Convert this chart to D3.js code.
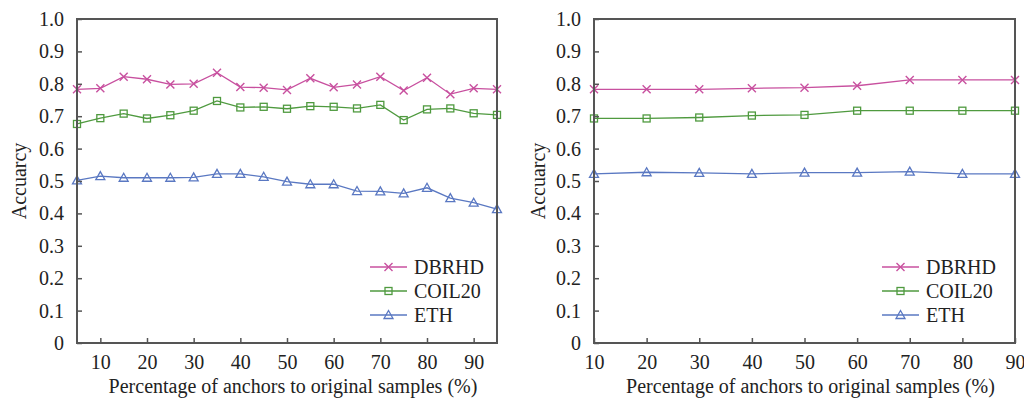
<!DOCTYPE html>
<html>
<head>
<meta charset="utf-8">
<script src="https://cdn.jsdelivr.net/npm/d3@7"></script>
<style>
  body { margin: 0; background: #fff; }
  svg { display: block; }
</style>
</head>
<body>
<svg id="chart" width="1024" height="403"></svg>
<script>
// left panel: anchors 5..95 step 5
var leftX = [5, 10, 15, 20, 25, 30, 35, 40, 45, 50, 55, 60, 65, 70, 75, 80, 85, 90, 95];
var leftDBRHD = [0.783, 0.786, 0.822, 0.814, 0.798, 0.800, 0.834, 0.790, 0.788, 0.781, 0.817, 0.789, 0.798, 0.822, 0.779, 0.819, 0.768, 0.786, 0.783];
var leftCOIL20 = [0.676, 0.694, 0.708, 0.693, 0.703, 0.717, 0.747, 0.727, 0.729, 0.723, 0.731, 0.729, 0.724, 0.735, 0.688, 0.721, 0.724, 0.709, 0.704];
var leftETH = [0.502, 0.515, 0.510, 0.510, 0.510, 0.511, 0.522, 0.522, 0.513, 0.498, 0.490, 0.490, 0.469, 0.468, 0.462, 0.479, 0.447, 0.433, 0.413];

// right panel: anchors 10..90 step 10
var rightX = [10, 20, 30, 40, 50, 60, 70, 80, 90];
var rightDBRHD = [0.783, 0.783, 0.783, 0.786, 0.788, 0.794, 0.812, 0.812, 0.812];
var rightCOIL20 = [0.693, 0.693, 0.696, 0.702, 0.704, 0.717, 0.717, 0.717, 0.717];
var rightETH = [0.522, 0.527, 0.525, 0.522, 0.526, 0.526, 0.529, 0.522, 0.522];

var xTicks = [10, 20, 30, 40, 50, 60, 70, 80, 90];
var yTicks = [0, 0.1, 0.2, 0.3, 0.4, 0.5, 0.6, 0.7, 0.8, 0.9, 1.0];
var seriesNames = ["DBRHD", "COIL20", "ETH"];
var seriesColors = ["#c8509f", "#4f9a3f", "#5a78c2"];
var seriesMarkers = ["cross", "square", "triangle"];

var svg = d3.select("#chart");
var axisColor = "#555";
var textColor = "#222";
var fontFamily = '"Liberation Serif", "Times New Roman", serif';

function marker(g, type, color) {
    if (type === "cross") {
        g.append("path").attr("d", "M-4,-4L4,4M-4,4L4,-4")
            .attr("stroke", color).attr("stroke-width", 1.4).attr("fill", "none");
    } else if (type === "square") {
        g.append("rect").attr("x", -3.5).attr("y", -3.5).attr("width", 7).attr("height", 7)
            .attr("stroke", color).attr("stroke-width", 1.3).attr("fill", "none");
    } else {
        g.append("path").attr("d", "M0,-4.5L4.5,3.5L-4.5,3.5Z")
            .attr("stroke", color).attr("stroke-width", 1.3).attr("fill", "none");
    }
}

function drawPanel(p) {
    var x = d3.scaleLinear().domain(p.xDomain).range([p.left, p.right]);
    var y = d3.scaleLinear().domain([0, 1]).range([p.bottom, p.top]);
    var g = svg.append("g");

    // series
    p.series.forEach(function (vals, i) {
        var pts = p.xs.map((d, j) => [d, vals[j]]);
        g.append("path")
            .datum(pts)
            .attr("fill", "none")
            .attr("stroke", seriesColors[i])
            .attr("stroke-width", 1.3)
            .attr("d", d3.line().x(d => x(d[0])).y(d => y(d[1])));
        pts.forEach(function (d) {
            var m = g.append("g").attr("transform", `translate(${x(d[0])},${y(d[1])})`);
            marker(m, seriesMarkers[i], seriesColors[i]);
        });
    });

    // frame
    g.append("rect")
        .attr("x", p.left).attr("y", p.top)
        .attr("width", p.right - p.left).attr("height", p.bottom - p.top)
        .attr("fill", "none").attr("stroke", axisColor).attr("stroke-width", 2);

    // x axis, ticks inside
    var xa = g.append("g").attr("transform", `translate(0,${p.bottom})`)
        .call(d3.axisBottom(x).tickValues(xTicks).tickSize(-5).tickPadding(12).tickFormat(d3.format("d")));
    xa.select(".domain").remove();
    xa.selectAll("line").attr("stroke", axisColor).attr("stroke-width", 1.5);

    var ya = g.append("g").attr("transform", `translate(${p.left},0)`)
        .call(d3.axisLeft(y).tickValues(yTicks).tickSize(-5).tickPadding(13)
            .tickFormat(d => d === 0 ? "0" : d3.format(".1f")(d)));
    ya.select(".domain").remove();
    ya.selectAll("line").attr("stroke", axisColor).attr("stroke-width", 1.5);

    // titles
    g.append("text")
        .attr("x", (p.left + p.right) / 2 + 6).attr("y", 393)
        .attr("text-anchor", "middle")
        .text("Percentage of anchors to original samples (%)");
    g.append("text")
        .attr("transform", `translate(${p.yTitleX},${(p.top + p.bottom) / 2}) rotate(-90)`)
        .attr("text-anchor", "middle")
        .text("Accuarcy");

    // legend
    seriesNames.forEach(function (name, i) {
        var ly = 267 + i * 24;
        g.append("line")
            .attr("x1", p.legendX).attr("x2", p.legendX + 37)
            .attr("y1", ly).attr("y2", ly)
            .attr("stroke", seriesColors[i]).attr("stroke-width", 1.3);
        var m = g.append("g").attr("transform", `translate(${p.legendX + 18.5},${ly})`);
        marker(m, seriesMarkers[i], seriesColors[i]);
        g.append("text")
            .attr("x", p.legendX + 44).attr("y", ly + 7)
            .text(name);
    });
}

drawPanel({
    xDomain: [5, 95], left: 77, right: 497, top: 19, bottom: 343,
    xs: leftX, series: [leftDBRHD, leftCOIL20, leftETH],
    yTitleX: 26, legendX: 370
});
drawPanel({
    xDomain: [10, 90], left: 594, right: 1015, top: 19, bottom: 343,
    xs: rightX, series: [rightDBRHD, rightCOIL20, rightETH],
    yTitleX: 545, legendX: 882
});

svg.selectAll("text")
    .style("font-family", fontFamily)
    .style("font-size", "20px")
    .attr("fill", textColor);
</script>
</body>
</html>
